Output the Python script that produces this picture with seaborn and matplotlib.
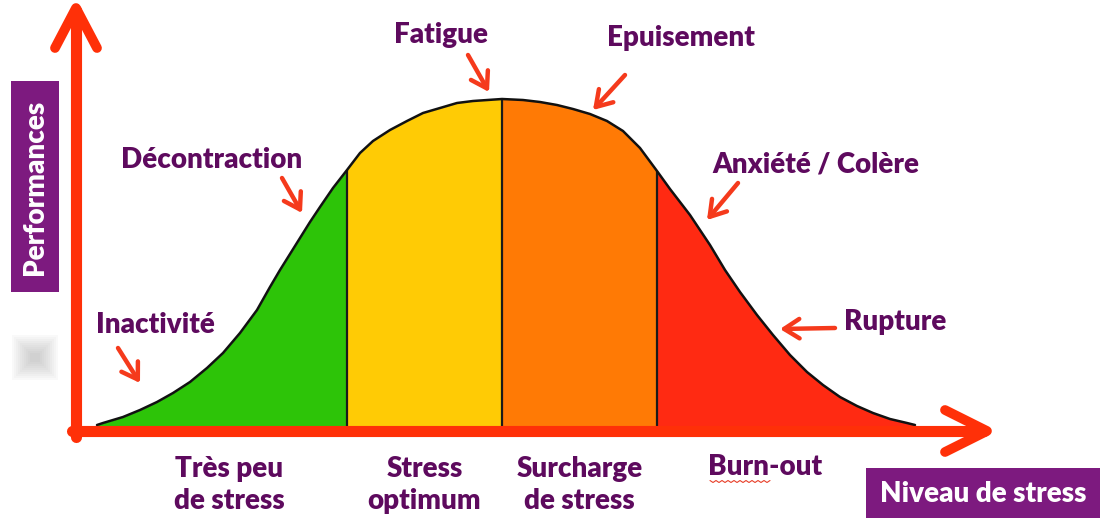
import numpy as np
import pandas as pd
import matplotlib.pyplot as plt
import seaborn as sns
from matplotlib.patches import Rectangle

# courbe (x = niveau de stress, y = performances)
stress = [97, 103, 123, 140, 157, 173, 190, 207, 223, 240, 257, 270, 280, 290, 300,
          310, 320, 333, 347, 360, 373, 390, 407, 423, 440, 457, 473, 502, 523, 540,
          557, 573, 590, 607, 623, 640, 657, 670, 690, 710, 725, 740, 757, 773, 790,
          807, 823, 840, 857, 873, 890, 907, 915]
perf = [95, 97, 103, 110, 118, 127, 138, 152, 167, 187, 210, 233, 250, 266, 282,
        298, 313, 332, 350, 367, 379, 390, 399, 407, 412, 417, 419, 421, 420, 418,
        415, 411, 406, 399, 389, 372, 349, 331, 305, 275, 250, 228, 205, 185, 165,
        148, 135, 123, 114, 107, 101, 97, 95]

# zones
zone_bounds = [97, 347, 502, 657, 915]
zone_colors = ["#2DC408", "#FFCB05", "#FF7A05", "#FF2A12"]
zone_labels = ["Très peu\nde stress", "Stress\noptimum", "Surcharge\nde stress", "Burn-out"]

# étiquettes le long de la courbe
curve_labels = ["Inactivité", "Décontraction", "Fatigue", "Epuisement", "Anxiété / Colère", "Rupture"]

df = pd.DataFrame({"stress": stress, "perf": perf})

sns.set_style("white")
plt.rcParams["font.family"] = ["Lato", "DejaVu Sans"]

purple = "#5E0A5E"
box_purple = "#7D1A7F"
axis_red = "#FF3008"
arrow_red = "#F53A1C"
fs = 20

fig = plt.figure(figsize=(11, 5.2), dpi=100)
ax = fig.add_axes([0, 0, 1, 1])
ax.set_xlim(0, 1100)
ax.set_ylim(0, 520)
ax.axis("off")

# remplissage des zones
x = df["stress"].to_numpy()
y = df["perf"].to_numpy()
for i, c in enumerate(zone_colors):
    lo, hi = zone_bounds[i], zone_bounds[i + 1]
    m = (x >= lo) & (x <= hi)
    ax.fill_between(x[m], y[m], 89, color=c, lw=0, zorder=1)

# séparations verticales
inner = zone_bounds[1:-1]
ax.vlines(inner, 89, np.interp(inner, x, y), color="#1A1A1A", lw=1.6, zorder=2)

# courbe
sns.lineplot(data=df, x="stress", y="perf", color="#111111", lw=1.8, ax=ax, zorder=3)
ax.set_xlabel("")
ax.set_ylabel("")

# axes en flèches
ax.plot([76, 76], [83, 510], color=axis_red, lw=8, solid_capstyle="round", zorder=4)
ax.plot([55, 76, 97], [472, 512, 472], color=axis_red, lw=7, solid_capstyle="round",
        solid_joinstyle="round", zorder=4)
ax.plot([72, 984], [89, 89], color=axis_red, lw=8, solid_capstyle="round", zorder=4)
ax.plot([945, 987, 945], [110, 89, 68], color=axis_red, lw=7, solid_capstyle="round",
        solid_joinstyle="round", zorder=4)

# étiquettes de la courbe avec flèches
label_pos = [(155, 195), (212, 360), (441, 485), (681, 482), (816, 355), (895, 198)]
arrow_pos = [((118, 172), (140, 137)), ((282, 342), (302, 307)), ((468, 465), (489, 428)),
             ((625, 445), (593, 410)), ((738, 337), (707, 300)), ((835, 192), (780, 191))]
for lab, (tx, ty), (tail, tip) in zip(curve_labels, label_pos, arrow_pos):
    ax.text(tx, ty, lab, ha="center", va="center", fontsize=fs, fontweight="heavy", color=purple)
    ax.annotate("", xy=tip, xytext=tail,
                arrowprops=dict(arrowstyle="->,head_length=0.55,head_width=0.35",
                                color=arrow_red, lw=3.2, mutation_scale=20,
                                shrinkA=0, shrinkB=0), zorder=5)

# étiquettes des zones
for i, lab in enumerate(zone_labels):
    cx = (zone_bounds[i] + zone_bounds[i + 1]) / 2
    if i == 0:
        cx = 229
    elif i == 3:
        cx = 765
    cy = 35 if "\n" in lab else 53
    ax.text(cx, cy, lab, ha="center", va="center", fontsize=fs, fontweight="heavy",
            color=purple, linespacing=1.25)

# soulignement ondulé (correcteur) sous "Burn"
zx = np.arange(710, 772, 3)
zy = np.where(np.arange(len(zx)) % 2 == 0, 39.5, 37.5)
ax.plot(zx, zy, color="#E8402A", lw=0.8, zorder=5)

# tache grise floue à gauche
for k in range(10):
    ax.add_patch(Rectangle((12 + k * 2, 140 + k * 2), 46 - k * 4, 45 - k * 4,
                           color="#999999", alpha=0.05, lw=0, zorder=0))

# cadres violets
ax.add_patch(Rectangle((11, 228), 48, 211, color=box_purple, lw=0, zorder=6))
ax.text(35, 333, "Performances", rotation=90, ha="center", va="center", fontsize=fs,
        fontweight="heavy", color="white", zorder=7)
ax.add_patch(Rectangle((866, 2), 234, 50, color=box_purple, lw=0, zorder=6))
ax.text(983, 26, "Niveau de stress", ha="center", va="center", fontsize=fs,
        fontweight="heavy", color="white", zorder=7)

fig.savefig("out.png", dpi=100)
